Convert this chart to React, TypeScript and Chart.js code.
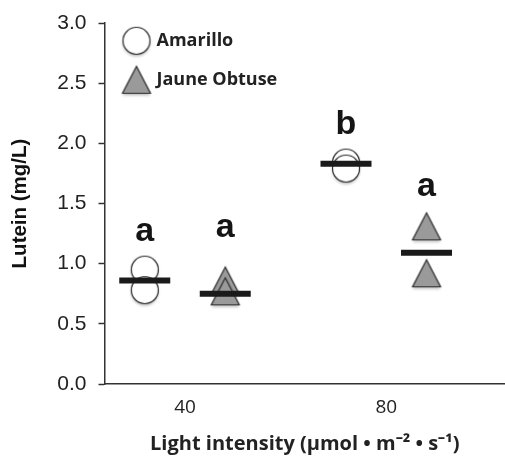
import React, { useEffect, useRef } from "react";
import { Chart, registerables } from "chart.js";

Chart.register(...registerables);

// ---- data ----
const categories = [40, 80];
const seriesNames = ["Amarillo", "Jaune Obtuse"];
const amarilloReplicates = [
  [0.95, 0.78],
  [1.84, 1.79],
];
const jauneReplicates = [
  [0.86, 0.77],
  [1.31, 0.92],
];
const amarilloMeans = [0.86, 1.83];
const jauneMeans = [0.75, 1.09];
const amarilloLetters = ["a", "b"];
const jauneLetters = ["a", "a"];
const amarilloLetterY = [1.19, 2.08];
const jauneLetterY = [1.22, 1.56];
const yTicks = [0, 0.5, 1, 1.5, 2, 2.5, 3];

// ---- layout ----
const GROUP_OFFSET = 8;
const X_MIN = 24;
const X_MAX = 103.6;

function makeMarker(kind: "circle" | "triangle"): HTMLCanvasElement {
  const c = document.createElement("canvas");
  c.width = 40;
  c.height = 40;
  const g = c.getContext("2d")!;
  g.save();
  g.shadowColor = "rgba(0,0,0,0.28)";
  g.shadowBlur = 3;
  g.shadowOffsetY = 2;
  g.beginPath();
  if (kind === "circle") {
    g.arc(20, 20, 13.5, 0, Math.PI * 2);
    g.fillStyle = "#ffffff";
  } else {
    g.moveTo(20, 6.5);
    g.lineTo(34, 33.5);
    g.lineTo(6, 33.5);
    g.closePath();
    g.fillStyle = "#9a9a9a";
  }
  g.fill();
  g.restore();
  g.lineWidth = 1.2;
  g.strokeStyle = "#2a2a2a";
  g.stroke();
  return c;
}

export default function App() {
  const ref = useRef<HTMLCanvasElement | null>(null);

  useEffect(() => {
    if (!ref.current) return;
    const circleImg = makeMarker("circle");
    const triImg = makeMarker("triangle");

    const pts = (reps: number[][], dx: number) =>
      reps.flatMap((vals, i) => vals.map((v) => ({ x: categories[i] + dx, y: v })));
    const means = (vals: number[], dx: number) =>
      vals.map((v, i) => ({ x: categories[i] + dx, y: v }));

    const letterGroups = [
      { letters: amarilloLetters, ys: amarilloLetterY, dx: -GROUP_OFFSET },
      { letters: jauneLetters, ys: jauneLetterY, dx: GROUP_OFFSET },
    ];

    const lettersPlugin = {
      id: "sigLetters",
      afterDatasetsDraw(chart: any) {
        const { ctx, scales } = chart;
        ctx.save();
        ctx.font = 'bold 34px "Liberation Sans", Arial, sans-serif';
        ctx.fillStyle = "#151515";
        ctx.textAlign = "center";
        ctx.textBaseline = "alphabetic";
        letterGroups.forEach((grp) => {
          grp.letters.forEach((l, i) => {
            ctx.fillText(
              l,
              scales.x.getPixelForValue(categories[i] + grp.dx),
              scales.y.getPixelForValue(grp.ys[i])
            );
          });
        });
        ctx.restore();
      },
    };

    const chart = new Chart(ref.current, {
      type: "scatter",
      data: {
        datasets: [
          {
            label: seriesNames[0],
            data: pts(amarilloReplicates, -GROUP_OFFSET),
            pointStyle: circleImg as any,
            pointRadius: 14,
            order: 1,
          },
          {
            label: seriesNames[1],
            data: pts(jauneReplicates, GROUP_OFFSET),
            pointStyle: triImg as any,
            pointRadius: 14,
            order: 1,
          },
          {
            label: "mean " + seriesNames[0],
            data: means(amarilloMeans, -GROUP_OFFSET),
            pointStyle: "line",
            pointRadius: 25.5,
            borderWidth: 6,
            borderColor: "#1a1a1a",
            order: 0,
          },
          {
            label: "mean " + seriesNames[1],
            data: means(jauneMeans, GROUP_OFFSET),
            pointStyle: "line",
            pointRadius: 25.5,
            borderWidth: 6,
            borderColor: "#1a1a1a",
            order: 0,
          },
        ],
      },
      options: {
        animation: false,
        responsive: false,
        events: [],
        layout: { autoPadding: false, padding: { top: 23, right: 0, bottom: 0, left: 0 } },
        scales: {
          x: {
            type: "linear",
            min: X_MIN,
            max: X_MAX,
            afterBuildTicks: (s: any) => {
              s.ticks = categories.map((v) => ({ value: v }));
            },
            afterFit: (s: any) => {
              s.height = 72;
              s.paddingLeft = 0;
              s.paddingRight = 0;
            },
            grid: { display: false },
            border: { display: true, color: "#333", width: 1.5 },
            ticks: {
              padding: 4,
              color: "#222",
              font: { family: '"Open Sans", sans-serif', size: 19 },
              callback: (v: any) => String(v),
            },
            title: {
              display: true,
              text: "Light intensity (µmol • m⁻² • s⁻¹)",
              color: "#222",
              font: { family: '"Open Sans", sans-serif', size: 20, weight: "bold" },
              padding: { top: 0, bottom: 0 },
            },
          },
          y: {
            min: 0,
            max: 3,
            afterBuildTicks: (s: any) => {
              s.ticks = yTicks.map((v) => ({ value: v }));
            },
            afterFit: (s: any) => {
              s.width = 104.5;
              s.paddingTop = 0;
              s.paddingBottom = 0;
            },
            grid: {
              display: true,
              drawOnChartArea: false,
              drawTicks: true,
              tickLength: 6,
              tickColor: "#333",
              tickWidth: 1.5,
            },
            border: { display: true, color: "#333", width: 1.5 },
            ticks: {
              padding: 12,
              color: "#222",
              font: { family: '"Liberation Sans", Arial, sans-serif', size: 21 },
              callback: (v: any) => Number(v).toFixed(1),
            },
            title: {
              display: true,
              text: "Lutein (mg/L)",
              color: "#111",
              font: { family: '"Liberation Sans", Arial, sans-serif', size: 20.5, weight: "bold" },
              padding: { top: 8, bottom: 0 },
            },
          },
        },
        plugins: {
          tooltip: { enabled: false },
          legend: {
            position: "chartArea" as any,
            align: "start",
            title: { display: true, text: "", font: { size: 9 }, padding: 0 },
            labels: {
              usePointStyle: true,
              pointStyleWidth: 22,
              padding: 21,
              color: "#222",
              font: { family: '"Open Sans", sans-serif', size: 18, weight: "bold" },
              filter: (item: any) => item.datasetIndex < 2,
            },
          },
        },
      },
      plugins: [lettersPlugin],
    });
    return () => chart.destroy();
  }, []);

  return (
    <div style={{ position: "fixed", left: 0, top: 0, width: 505, height: 456, background: "#fff" }}>
      <canvas ref={ref} width={505} height={456} />
    </div>
  );
}
